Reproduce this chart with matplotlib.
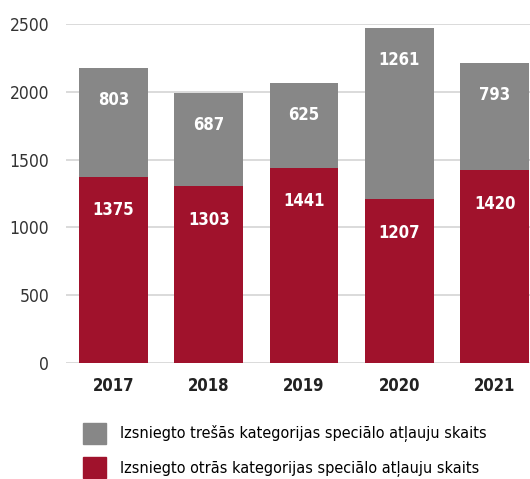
import numpy as np
import matplotlib.pyplot as plt
from matplotlib.patches import Patch

# Data
years = ['2017', '2018', '2019', '2020', '2021']
otras = [1375, 1303, 1441, 1207, 1420]    # second category (red, bottom)
tresas = [803, 687, 625, 1261, 793]       # third category (grey, top)
y_ticks = [0, 500, 1000, 1500, 2000, 2500]

label_tresas = 'Izsniegto trešās kategorijas speciālo atļauju skaits'
label_otras = 'Izsniegto otrās kategorijas speciālo atļauju skaits'

red = '#a0122c'
grey = '#878787'

# narrow fonts first if the system has them, DejaVu Sans otherwise
plt.rcParams['font.family'] = ['DejaVu Sans Condensed', 'Liberation Sans Narrow', 'DejaVu Sans']
plt.rcParams['font.stretch'] = 'condensed'

fig = plt.figure(figsize=(5.3, 4.79), dpi=100)
ax = fig.add_axes([0.1245, 0.2422, 0.8755, 0.7077])

x = np.arange(len(years))
width = 0.72
ax.bar(x, otras, width, color=red, zorder=2)
ax.bar(x, tresas, width, bottom=otras, color=grey, zorder=2)

# value labels sit a fixed distance below the top of each segment
for i in range(len(years)):
    ax.annotate(str(otras[i]), xy=(x[i], otras[i]), xytext=(0, -24),
                textcoords='offset points', ha='center', va='center',
                color='white', fontsize=12, fontweight='bold')
    ax.annotate(str(tresas[i]), xy=(x[i], otras[i] + tresas[i]), xytext=(0, -23),
                textcoords='offset points', ha='center', va='center',
                color='white', fontsize=12, fontweight='bold')

ax.set_xlim(-0.497, 4.37)
ax.set_ylim(0, 2500)
ax.set_yticks(y_ticks)
ax.set_xticks(x)
ax.set_xticklabels(years, fontsize=12, fontweight='bold', color='#222222')
ax.tick_params(axis='y', length=0, pad=12, labelsize=12.5, labelcolor='#333333')
ax.tick_params(axis='x', length=0, pad=10)
ax.grid(axis='y', color='#d4d4d4', linewidth=1.2, zorder=0)
for s in ax.spines.values():
    s.set_visible(False)

handles = [Patch(color=grey, label=label_tresas), Patch(color=red, label=label_otras)]
fig.legend(handles=handles, loc='upper left', bbox_to_anchor=(83 / 530, 1 - 422.5 / 479),
           frameon=False, fontsize=11.6, handlelength=1.4, handleheight=1.65,
           handletextpad=0.9, labelspacing=0.82, borderpad=0, borderaxespad=0)

plt.savefig('out.png')
